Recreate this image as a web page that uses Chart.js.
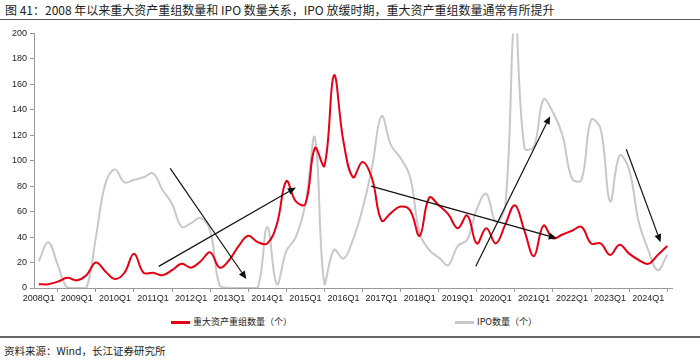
<!DOCTYPE html>
<html>
<head>
<meta charset="utf-8">
<script src="https://cdn.jsdelivr.net/npm/chart.js@4/dist/chart.umd.min.js"></script>
<style>
  body { margin: 0; width: 700px; height: 362px; position: relative; background: #fff; overflow: hidden; }
  .cn { font-family: "Noto Sans CJK SC", "Liberation Sans", sans-serif; white-space: nowrap; position: absolute; }
</style>
</head>
<body>
<div class="cn" style="left:5px; top:2px; font-size:12px; line-height:15px; color:#222;">图 41：2008 年以来重大资产重组数量和 IPO 数量关系，IPO 放缓时期，重大资产重组数量通常有所提升</div>
<div style="position:absolute; left:0; top:19px; width:700px; height:1px; background:#555;"></div>

<div style="position:absolute; left:0; top:25px; width:700px; height:290px;">
  <canvas id="myChart"></canvas>
</div>

<div id="legend"></div>

<div style="position:absolute; left:0; top:336px; width:700px; height:2px; background:#666;"></div>
<div class="cn" style="left:4px; top:344px; font-size:10.5px; line-height:14px; color:#222;">资料来源：Wind，长江证券研究所</div>

<script>
// quarters 2008Q1 .. 2024Q3
var years = [2008, 2009, 2010, 2011, 2012, 2013, 2014, 2015, 2016, 2017, 2018, 2019, 2020, 2021, 2022, 2023, 2024];
var quarters = [];
years.forEach(function (y) {
  ["Q1", "Q2", "Q3", "Q4"].forEach(function (q) {
    if (y === 2024 && q === "Q4") return;
    quarters.push(y + q);
  });
});

var seriesNames = ["重大资产重组数量（个）", "IPO数量（个）"];

// 重大资产重组数量
var mna_counts = [3, 3, 5, 8, 6, 10, 20, 13, 7, 12, 27, 12,
  12, 10, 14, 19, 16, 21, 28, 16, 22, 33, 41, 36,
  35, 50, 84, 68, 66, 110, 96, 167, 115, 87, 99, 86,
  53, 59, 64, 61, 41, 71, 65, 58, 47, 57, 35, 47,
  35, 50, 65, 45, 25, 49, 39, 42, 45, 48, 35, 35,
  26, 34, 27, 22, 19, 26, 33];

// IPO数量
var ipo_counts = [21, 36, 18, 0, 0, 0, 40, 82, 93, 83, 85, 87,
  90, 77, 66, 48, 51, 55, 45, 2, 0, 0, 0, 0,
  48, 3, 29, 40, 66, 118, 3, 30, 23, 38, 62, 95,
  135, 112, 102, 87, 43, 30, 24, 18, 33, 38, 62, 74,
  52, 65, 215, 110, 111, 148, 138, 120, 86, 85, 132, 125,
  68, 104, 93, 52, 30, 14, 26];

var yTicks = { min: 0, max: 200, step: 20 };

// arrows: [from quarter index, from value, to quarter index, to value]
var arrows = [
  [13.8, 94, 21.8, 7],
  [12.6, 17, 27.0, 79],
  [34.9, 80, 54.4, 39],
  [45.9, 17, 53.7, 135],
  [61.7, 109, 65.3, 36]
];

var colors = ["#e60012", "#c8c8c8"];

var arrowPlugin = {
  id: "arrows",
  afterDatasetsDraw: function (chart) {
    var c = chart.ctx, xs = chart.scales.x, ys = chart.scales.y;
    c.save();
    c.strokeStyle = "#111";
    c.fillStyle = "#111";
    c.lineWidth = 1.2;
    arrows.forEach(function (a) {
      var x0 = xs.getPixelForValue(a[0]), y0 = ys.getPixelForValue(a[1]);
      var x1 = xs.getPixelForValue(a[2]), y1 = ys.getPixelForValue(a[3]);
      var ang = Math.atan2(y1 - y0, x1 - x0);
      var hl = 8, hw = 3.5;
      var bx = x1 - hl * Math.cos(ang), by = y1 - hl * Math.sin(ang);
      c.beginPath();
      c.moveTo(x0, y0);
      c.lineTo(bx, by);
      c.stroke();
      c.beginPath();
      c.moveTo(x1, y1);
      c.lineTo(bx + hw * Math.sin(ang), by - hw * Math.cos(ang));
      c.lineTo(bx - hw * Math.sin(ang), by + hw * Math.cos(ang));
      c.closePath();
      c.fill();
    });
    c.restore();
  }
};

var ctx = document.getElementById("myChart");
var myChart = new Chart(ctx, {
  type: "line",
  data: {
    labels: quarters,
    datasets: [
      {
        label: seriesNames[0],
        data: mna_counts,
        borderColor: colors[0],
        borderWidth: 2,
        pointRadius: 0,
        tension: 0.4,
        order: 1
      },
      {
        label: seriesNames[1],
        data: ipo_counts,
        borderColor: colors[1],
        borderWidth: 2,
        pointRadius: 0,
        tension: 0.4,
        order: 2
      }
    ]
  },
  options: {
    responsive: true,
    maintainAspectRatio: false,
    animation: false,
    layout: { padding: { top: 8, right: 28, left: 0, bottom: 0 } },
    plugins: {
      legend: { display: false },
      tooltip: { enabled: false }
    },
    scales: {
      x: {
        offset: true,
        afterFit: function (s) { s.height = 27; },
        grid: {
          offset: true,
          drawOnChartArea: false,
          drawTicks: true,
          tickLength: 4,
          color: "#999"
        },
        border: { color: "#999", width: 1 },
        ticks: {
          autoSkip: false,
          maxRotation: 0,
          padding: 1,
          color: "#222",
          font: { family: "Liberation Sans", size: 9 },
          callback: function (val) {
            var l = this.getLabelForValue(val);
            return l.slice(-2) === "Q1" ? l : null;
          }
        }
      },
      y: {
        min: yTicks.min,
        max: yTicks.max,
        afterFit: function (s) { s.width = 34; },
        grid: {
          drawOnChartArea: false,
          drawTicks: true,
          tickLength: 4,
          color: "#999"
        },
        border: { color: "#999", width: 1 },
        ticks: {
          stepSize: yTicks.step,
          padding: 3,
          color: "#222",
          font: { family: "Liberation Sans", size: 9 }
        }
      }
    }
  },
  plugins: [arrowPlugin]
});

// legend as html text
var legendPos = [171, 455];
var lg = document.getElementById("legend");
seriesNames.forEach(function (name, i) {
  var line = document.createElement("div");
  line.style.cssText = "position:absolute; top:321px; width:19px; height:2.5px; left:" + legendPos[i] + "px; background:" + colors[i] + ";";
  lg.appendChild(line);
  var t = document.createElement("div");
  t.className = "cn";
  t.style.cssText = "top:315px; font-size:9px; line-height:14px; color:#222; left:" + (legendPos[i] + 22) + "px;";
  t.textContent = name;
  lg.appendChild(t);
});
</script>
</body>
</html>
